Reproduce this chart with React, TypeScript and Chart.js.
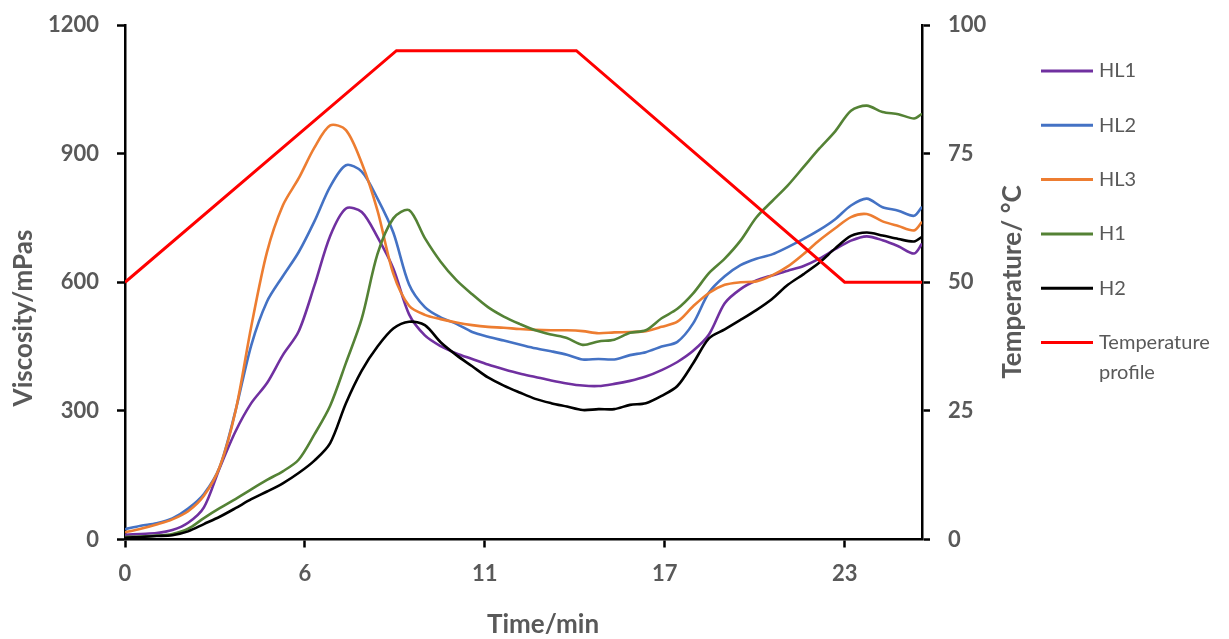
import React, { useEffect, useRef } from 'react';
import { Chart, registerables } from 'chart.js';

Chart.register(...registerables);

// Time grid (min)
const TIME = [0, 0.5, 1, 1.5, 2, 2.5, 3, 3.5, 4, 4.5, 5, 5.5, 6, 6.5, 7, 7.5, 8, 8.5, 9, 9.5, 10, 10.5, 11, 11.5, 12, 12.5, 13, 13.5, 14, 14.5, 15, 15.5, 16, 16.5, 17, 17.5, 18, 18.5, 19, 19.5, 20, 20.5, 21, 21.5, 22, 22.5, 23, 23.5, 24, 24.5, 25, 25.25];

// Viscosity series (mPas)
const HL1 = [11, 13, 15, 22, 39, 75, 167, 252, 318, 365, 430, 485, 592, 708, 772, 764, 705, 632, 525, 476, 451, 434, 421, 408, 397, 387, 379, 371, 364, 359, 358, 363, 370, 380, 395, 414, 440, 478, 551, 584, 604, 616, 627, 638, 655, 677, 697, 707, 698, 684, 667, 690];
const HL2 = [24, 32, 38, 49, 72, 106, 169, 300, 453, 555, 614, 670, 742, 823, 873, 858, 795, 716, 595, 542, 518, 503, 484, 473, 464, 455, 446, 439, 431, 420, 421, 420, 430, 437, 450, 461, 504, 576, 614, 640, 655, 665, 682, 701, 722, 747, 779, 795, 775, 767, 755, 776];
const HL3 = [17, 25, 35, 47, 66, 102, 169, 299, 497, 671, 779, 842, 914, 966, 955, 878, 767, 620, 545, 524, 514, 506, 500, 496, 494, 491, 489, 488, 488, 486, 481, 483, 484, 486, 496, 508, 544, 575, 594, 600, 602, 616, 637, 666, 698, 726, 752, 759, 742, 731, 721, 741];
const H1 = [6, 7, 9, 13, 25, 50, 73, 94, 117, 139, 159, 186, 245, 312, 412, 515, 666, 749, 768, 703, 648, 605, 572, 542, 520, 503, 488, 478, 470, 454, 462, 466, 482, 488, 516, 538, 574, 621, 655, 697, 751, 789, 826, 869, 912, 952, 1000, 1012, 997, 992, 982, 993];
const H2 = [4, 6, 8, 10, 19, 36, 53, 73, 94, 112, 131, 155, 184, 225, 318, 394, 450, 492, 508, 500, 460, 430, 404, 378, 359, 343, 328, 318, 310, 302, 304, 304, 314, 318, 335, 358, 411, 469, 490, 512, 535, 561, 594, 619, 646, 679, 708, 716, 709, 701, 695, 706];

// Temperature profile (°C)
const TEMP_TIME = [0, 8.6, 14.3, 22.8, 25.25];
const TEMP_VALUES = [50, 95, 95, 50, 50];

// Axis ticks
const X_TICKS = [0, 5.7, 11.4, 17.1, 22.8];
const X_TICK_LABELS = ['0', '6', '11', '17', '23'];

const SERIES_NAMES = ['HL1', 'HL2', 'HL3', 'H1', 'H2', 'Temperature profile'];
const SERIES_COLORS = ['#7030A0', '#4472C4', '#ED7D31', '#548235', '#000000', '#FF0000'];

const X_TITLE = 'Time/min';
const Y_TITLE = 'Viscosity/mPas';
const Y1_TITLE = 'Temperature/ °C';

const FONT = 'Lato, "Open Sans", sans-serif';
const TEXT_COLOR = '#595959';

export default function App() {
  const ref = useRef<HTMLCanvasElement>(null);

  useEffect(() => {
    const canvas = ref.current;
    if (!canvas) return;
    const toPts = (vals: number[]) => vals.map((v, i) => ({ x: TIME[i], y: v }));
    const viscSeries = [HL1, HL2, HL3, H1, H2];

    const titlesAndLegend = {
      id: 'titlesAndLegend',
      afterDraw(chart: any) {
        const ctx = chart.ctx as CanvasRenderingContext2D;
        ctx.save();
        ctx.fillStyle = TEXT_COLOR;
        ctx.font = `bold 26px ${FONT}`;
        ctx.textAlign = 'center';
        ctx.textBaseline = 'middle';
        ctx.fillText(X_TITLE, 543, 625);
        ctx.save();
        ctx.translate(24, 318);
        ctx.rotate(-Math.PI / 2);
        ctx.fillText(Y_TITLE, 0, 0);
        ctx.restore();
        ctx.save();
        ctx.translate(1013, 282);
        ctx.rotate(-Math.PI / 2);
        ctx.fillText(Y1_TITLE, 0, 0);
        ctx.restore();

        ctx.font = `20px ${FONT}`;
        ctx.textAlign = 'left';
        SERIES_NAMES.forEach((name, i) => {
          const y = 71 + i * 54.3;
          ctx.strokeStyle = SERIES_COLORS[i];
          ctx.lineWidth = 3;
          ctx.beginPath();
          ctx.moveTo(1041, y);
          ctx.lineTo(1093, y);
          ctx.stroke();
          const words = name.split(' ');
          const lines: string[] = [];
          let cur = '';
          words.forEach((w) => {
            const test = cur ? cur + ' ' + w : w;
            if (cur && ctx.measureText(test).width > 128) {
              lines.push(cur);
              cur = w;
            } else cur = test;
          });
          if (cur) lines.push(cur);
          lines.forEach((t, j) => ctx.fillText(t, 1099, y + j * 29.6));
        });
        ctx.restore();
      },
    };

    const tickFont = { family: FONT, size: 22, weight: 'bold' as const };
    const axisGrid = {
      display: true,
      drawOnChartArea: false,
      drawTicks: true,
      tickLength: 8,
      tickColor: '#000000',
      tickWidth: 2.5,
      color: '#000000',
    };
    const axisBorder = { display: true, color: '#000000', width: 2.5 };
    const plainNum = (v: any) => String(v);

    const chart = new Chart(canvas, {
      type: 'line',
      data: {
        datasets: [
          ...viscSeries.map((vals, i) => ({
            label: SERIES_NAMES[i],
            data: toPts(vals),
            borderColor: SERIES_COLORS[i],
            backgroundColor: SERIES_COLORS[i],
            borderWidth: 2.6,
            pointRadius: 0,
            tension: 0.3,
            fill: false,
            yAxisID: 'y',
            order: 5 - i,
          })),
          {
            label: SERIES_NAMES[5],
            data: TEMP_TIME.map((t, i) => ({ x: t, y: TEMP_VALUES[i] })),
            borderColor: SERIES_COLORS[5],
            backgroundColor: SERIES_COLORS[5],
            borderWidth: 3,
            pointRadius: 0,
            tension: 0,
            fill: false,
            yAxisID: 'y1',
            order: 0,
          },
        ],
      },
      options: {
        responsive: false,
        animation: false,
        layout: { padding: { left: 0, right: 0, top: 25, bottom: 0 } },
        plugins: { legend: { display: false }, tooltip: { enabled: false } },
        scales: {
          x: {
            type: 'linear',
            min: 0,
            max: 25.25,
            afterBuildTicks: (scale: any) => {
              scale.ticks = X_TICKS.map((v) => ({ value: v }));
            },
            afterFit: (scale: any) => {
              scale.height = 99.5;
              scale.paddingLeft = 0;
              scale.paddingRight = 0;
            },
            ticks: {
              font: tickFont,
              color: TEXT_COLOR,
              padding: 13,
              maxRotation: 0,
              autoSkip: false,
              callback: (_v: any, idx: number) => X_TICK_LABELS[idx],
            },
            grid: axisGrid,
            border: axisBorder,
          },
          y: {
            type: 'linear',
            position: 'left',
            min: 0,
            max: 1200,
            ticks: { stepSize: 300, font: tickFont, color: TEXT_COLOR, padding: 18, callback: plainNum },
            afterFit: (scale: any) => {
              scale.width = 125;
              scale.paddingTop = 0;
              scale.paddingBottom = 0;
            },
            grid: axisGrid,
            border: axisBorder,
          },
          y1: {
            type: 'linear',
            position: 'right',
            min: 0,
            max: 100,
            ticks: { stepSize: 25, font: tickFont, color: TEXT_COLOR, padding: 18, callback: plainNum },
            afterFit: (scale: any) => {
              scale.width = 307;
              scale.paddingTop = 0;
              scale.paddingBottom = 0;
            },
            grid: axisGrid,
            border: axisBorder,
          },
        },
      },
      plugins: [titlesAndLegend],
    } as any);

    return () => chart.destroy();
  }, []);

  return (
    <canvas
      ref={ref}
      width={1229}
      height={639}
      style={{ position: 'absolute', left: 0, top: 0, display: 'block', background: '#ffffff' }}
    />
  );
}
